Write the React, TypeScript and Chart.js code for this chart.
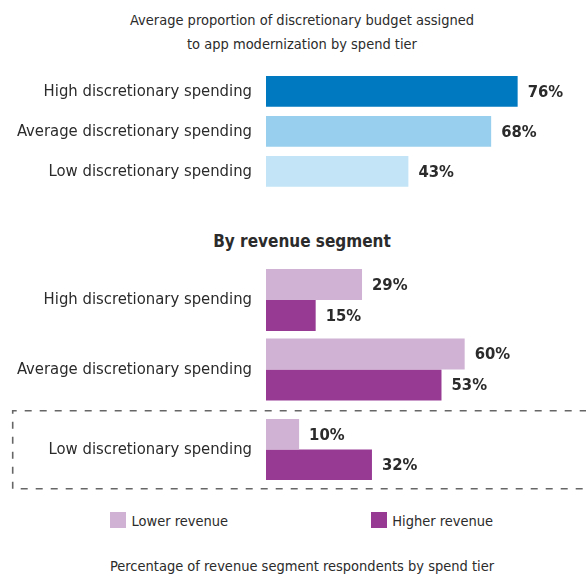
import React, { useEffect, useRef } from "react";
import { Chart, registerables } from "chart.js";

Chart.register(...registerables);

// ---------- data ----------
const chartTitle = [
  "Average proportion of discretionary budget assigned",
  "to app modernization by spend tier",
];
const tierCategories = [
  "High discretionary spending",
  "Average discretionary spending",
  "Low discretionary spending",
];
const tierValues = [76, 68, 43];
const tierColors = ["#0079C1", "#99CFEE", "#C3E4F7"];

const segmentTitle = "By revenue segment";
const seriesNames = ["Lower revenue", "Higher revenue"];
const seriesColors = ["#D0B2D4", "#973A93"];
const lowerRevenue = [29, 60, 10];
const higherRevenue = [15, 53, 32];
const footerText = "Percentage of revenue segment respondents by spend tier";

// ---------- styling ----------
const FONT = "'DejaVu Sans Condensed', 'DejaVu Sans', sans-serif";
const TEXT = "#2b2b2b";
const AXIS_MAX = 90;

const valueLabels = {
  id: "valueLabels",
  afterDatasetsDraw(chart: any) {
    const ctx = chart.ctx;
    ctx.save();
    ctx.font = `bold 16.5px ${FONT}`;
    ctx.fillStyle = TEXT;
    ctx.textBaseline = "middle";
    ctx.textAlign = "left";
    chart.data.datasets.forEach((ds: any, i: number) => {
      const meta = chart.getDatasetMeta(i);
      meta.data.forEach((el: any, j: number) => {
        ctx.fillText(`${ds.data[j]}%`, el.x + 10, el.y + 1);
      });
    });
    ctx.restore();
  },
};

const dashedBox = {
  id: "dashedBox",
  beforeDraw(chart: any) {
    const ctx = chart.ctx;
    const a = chart.chartArea;
    const top = a.top - 3.3;
    const bottom = a.bottom + 3.7;
    const left = 12.7;
    const right = chart.width + 10;
    ctx.save();
    ctx.strokeStyle = "#666666";
    ctx.lineWidth = 1.6;
    ctx.setLineDash([7, 8]);
    ctx.beginPath();
    ctx.moveTo(left, top + 3);
    ctx.lineTo(left, top);
    ctx.lineTo(right, top);
    ctx.stroke();
    ctx.beginPath();
    ctx.moveTo(left, top + 11);
    ctx.lineTo(left, bottom);
    ctx.lineTo(right, bottom);
    ctx.stroke();
    ctx.restore();
  },
};

function barConfig(
  labels: string[],
  datasets: any[],
  padTop: number,
  padBottom: number,
  extra: any[] = []
) {
  return {
    type: "bar" as const,
    data: { labels, datasets },
    options: {
      indexAxis: "y" as const,
      responsive: false,
      animation: false as const,
      devicePixelRatio: 1,
      layout: { padding: { left: 0, right: 22, top: padTop, bottom: padBottom } },
      plugins: {
        legend: { display: false },
        tooltip: { enabled: false },
        title: { display: false },
      },
      scales: {
        x: { display: false, min: 0, max: AXIS_MAX },
        y: {
          grid: { display: false },
          border: { display: false },
          ticks: {
            color: TEXT,
            font: { family: FONT, size: 16.5 },
            padding: 6,
            autoSkip: false,
          },
          afterFit: (s: any) => {
            s.width = 266;
            s.paddingTop = 0;
            s.paddingBottom = 0;
          },
        },
      },
    },
    plugins: [valueLabels, ...extra],
  };
}

export default function App() {
  const topRef = useRef<HTMLCanvasElement>(null);
  const midRef = useRef<HTMLCanvasElement>(null);
  const lowRef = useRef<HTMLCanvasElement>(null);

  useEffect(() => {
    const charts: Chart[] = [];
    charts.push(
      new Chart(
        topRef.current!,
        barConfig(
          tierCategories,
          [
            {
              data: tierValues,
              backgroundColor: tierColors,
              barPercentage: 0.767,
              categoryPercentage: 1,
            },
          ],
          11.3,
          8.7
        ) as any
      )
    );
    const segDatasets = (from: number, to: number, cat: number) => [
      {
        label: seriesNames[0],
        data: lowerRevenue.slice(from, to),
        backgroundColor: seriesColors[0],
        barPercentage: 1,
        categoryPercentage: cat,
      },
      {
        label: seriesNames[1],
        data: higherRevenue.slice(from, to),
        backgroundColor: seriesColors[1],
        barPercentage: 1,
        categoryPercentage: cat,
      },
    ];
    charts.push(
      new Chart(
        midRef.current!,
        barConfig(tierCategories.slice(0, 2), segDatasets(0, 2, 0.892), 10.25, 5.75) as any
      )
    );
    charts.push(
      new Chart(
        lowRef.current!,
        barConfig(tierCategories.slice(2), segDatasets(2, 3, 0.859), 14, 15, [dashedBox]) as any
      )
    );
    return () => charts.forEach((c) => c.destroy());
  }, []);

  const text = (
    content: React.ReactNode,
    top: number,
    size: number,
    lineHeight: number,
    center: number,
    bold = false
  ) => (
    <div
      style={{
        position: "absolute",
        left: center - 293,
        width: 586,
        top,
        textAlign: "center",
        fontFamily: FONT,
        fontSize: size,
        lineHeight: `${lineHeight}px`,
        fontWeight: bold ? 700 : 400,
        color: TEXT,
        whiteSpace: "nowrap",
      }}
    >
      {content}
    </div>
  );

  const legendItem = (i: number, boxLeft: number) => (
    <React.Fragment key={i}>
      <div
        style={{
          position: "absolute",
          left: boxLeft,
          top: 512.3,
          width: 16,
          height: 15.4,
          background: seriesColors[i],
        }}
      />
      <div
        style={{
          position: "absolute",
          left: boxLeft + 21.5,
          top: 513.2,
          fontFamily: FONT,
          fontSize: 14.5,
          lineHeight: "17px",
          color: TEXT,
          whiteSpace: "nowrap",
        }}
      >
        {seriesNames[i]}
      </div>
    </React.Fragment>
  );

  const canvasStyle = (top: number): React.CSSProperties => ({
    position: "absolute",
    left: 0,
    top,
    display: "block",
  });

  return (
    <div
      style={{
        position: "absolute",
        left: 0,
        top: 0,
        width: 586,
        height: 576,
        background: "#ffffff",
        overflow: "hidden",
      }}
    >
      {text(
        <>
          {chartTitle[0]}
          <br />
          {chartTitle[1]}
        </>,
        8,
        14.5,
        24,
        302
      )}
      <canvas ref={topRef} width={586} height={140} style={canvasStyle(60)} />
      {text(segmentTitle, 229.8, 17, 22, 302, true)}
      <canvas ref={midRef} width={586} height={155} style={canvasStyle(255)} />
      <canvas ref={lowRef} width={586} height={100} style={canvasStyle(400)} />
      {legendItem(0, 110)}
      {legendItem(1, 370.7)}
      {text(footerText, 554, 14.5, 24, 302)}
    </div>
  );
}
